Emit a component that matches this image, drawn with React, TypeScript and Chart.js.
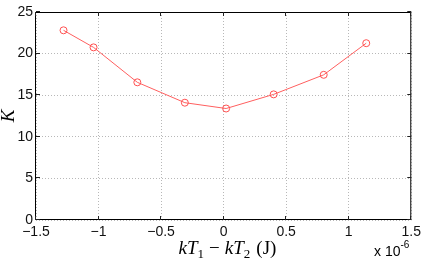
import React, { useEffect, useRef } from "react";
import { Chart, registerables } from "chart.js";

Chart.register(...registerables);

// x values in units of 1e-6 J
const xValues = [-1.28, -1.04, -0.69, -0.31, 0.02, 0.4, 0.8, 1.14];
const kValues = [22.8, 20.75, 16.55, 14.1, 13.4, 15.1, 17.45, 21.25];
const xTickRange = [-1.5, 1.5];
const yTickRange = [0, 25];
const xExponent = "-6";
const yTitle = "K";

const fmt = (v: number) => {
  const r = Number(v.toFixed(1));
  if (r === 0) return "0";
  return String(r).replace("-", "\u2212");
};

const textPlugin = {
  id: "matlabText",
  afterDraw(chart: any) {
    const { ctx, chartArea } = chart;
    const { left, right, top, bottom } = chartArea;
    ctx.save();
    // box
    ctx.strokeStyle = "#000";
    ctx.lineWidth = 1;
    ctx.setLineDash([]);
    ctx.strokeRect(left - 0.5, top + 0.5, right - left, bottom - top - 1);

    // inner tick marks
    const xs = chart.scales.x;
    const ys = chart.scales.y;
    const tl = 4;
    ctx.strokeStyle = "#222";
    ctx.beginPath();
    xs.ticks.forEach((t: any) => {
      const px = Math.round(xs.getPixelForValue(t.value)) - 0.5;
      ctx.moveTo(px, bottom);
      ctx.lineTo(px, bottom - tl);
      ctx.moveTo(px, top);
      ctx.lineTo(px, top + tl);
    });
    ys.ticks.forEach((t: any) => {
      const py = Math.round(ys.getPixelForValue(t.value)) - 0.5;
      ctx.moveTo(left, py);
      ctx.lineTo(left + tl, py);
      ctx.moveTo(right, py);
      ctx.lineTo(right - tl, py);
    });
    ctx.stroke();

    ctx.fillStyle = "#000";
    // y title
    ctx.save();
    ctx.translate(9, (top + bottom) / 2);
    ctx.rotate(-Math.PI / 2);
    ctx.font = 'italic 19px "Liberation Serif"';
    ctx.textAlign = "center";
    ctx.textBaseline = "middle";
    ctx.fillText(yTitle, 0, 0);
    ctx.restore();

    // x title with mixed fonts
    const it = 'italic 19px "Liberation Serif"';
    const up = '19px "Liberation Serif"';
    const sub = '13px "Liberation Serif"';
    const segs = [
      { t: "k", f: it, dy: 0, g: 0 },
      { t: "T", f: it, dy: 0, g: 0 },
      { t: "1", f: sub, dy: 4, g: 0 },
      { t: "\u2212", f: up, dy: 0, g: 5 },
      { t: "k", f: it, dy: 0, g: 5 },
      { t: "T", f: it, dy: 0, g: 0 },
      { t: "2", f: sub, dy: 4, g: 0 },
      { t: "(J)", f: up, dy: 0, g: 6 },
    ];
    let w = 0;
    segs.forEach((s) => {
      ctx.font = s.f;
      w += ctx.measureText(s.t).width + s.g;
    });
    let x = 227.5 - w / 2;
    const base = 254;
    ctx.textAlign = "left";
    ctx.textBaseline = "alphabetic";
    segs.forEach((s) => {
      ctx.font = s.f;
      x += s.g;
      ctx.fillText(s.t, x, base + s.dy);
      x += ctx.measureText(s.t).width;
    });

    // exponent label
    ctx.font = '14px "Liberation Sans"';
    ctx.fillText("x 10", 374, 256);
    const ew = ctx.measureText("x 10").width;
    ctx.font = '10px "Liberation Sans"';
    ctx.fillText(xExponent, 374 + ew, 248);
    ctx.restore();
  },
};

export default function App() {
  const ref = useRef<HTMLCanvasElement>(null);
  useEffect(() => {
    if (!ref.current) return;
    const chart = new Chart(ref.current, {
      type: "line",
      data: {
        datasets: [
          {
            data: xValues.map((x, i) => ({ x, y: kValues[i] })),
            borderColor: "rgb(255,95,95)",
            borderWidth: 1,
            pointStyle: "circle",
            pointRadius: 3.5,
            pointBorderWidth: 1,
            pointBackgroundColor: "rgba(255,255,255,0)",
            pointBorderColor: "rgb(255,80,80)",
            tension: 0,
          },
        ],
      },
      options: {
        animation: false,
        responsive: false,
        devicePixelRatio: 1,
        layout: { padding: { top: 12, right: 12, left: 0, bottom: 0 } },
        plugins: { legend: { display: false }, tooltip: { enabled: false } },
        scales: {
          x: {
            type: "linear",
            min: xTickRange[0],
            max: xTickRange[1],
            afterFit: (s: any) => {
              s.height = 48;
            },
            ticks: {
              stepSize: 0.5,
              autoSkip: false,
              maxRotation: 0,
              padding: 4,
              color: "#111",
              font: { family: "Liberation Sans", size: 14 },
              callback: (v: any) => fmt(Number(v)),
            },
            grid: { color: "#b8b8b8", drawTicks: false, lineWidth: 1 },
            border: { display: false, dash: [1, 2] },
          },
          y: {
            type: "linear",
            min: yTickRange[0],
            max: yTickRange[1],
            afterFit: (s: any) => {
              s.width = 36;
            },
            ticks: {
              stepSize: 5,
              padding: 3,
              color: "#111",
              font: { family: "Liberation Sans", size: 14 },
              callback: (v: any) => fmt(Number(v)),
            },
            grid: { color: "#b8b8b8", drawTicks: false, lineWidth: 1 },
            border: { display: false, dash: [1, 2] },
          },
        },
      },
      plugins: [textPlugin],
    });
    return () => chart.destroy();
  }, []);
  return (
    <div style={{ position: "absolute", left: 0, top: 0, width: 425, height: 268, background: "#fff" }}>
      <canvas ref={ref} width={425} height={268} />
    </div>
  );
}
